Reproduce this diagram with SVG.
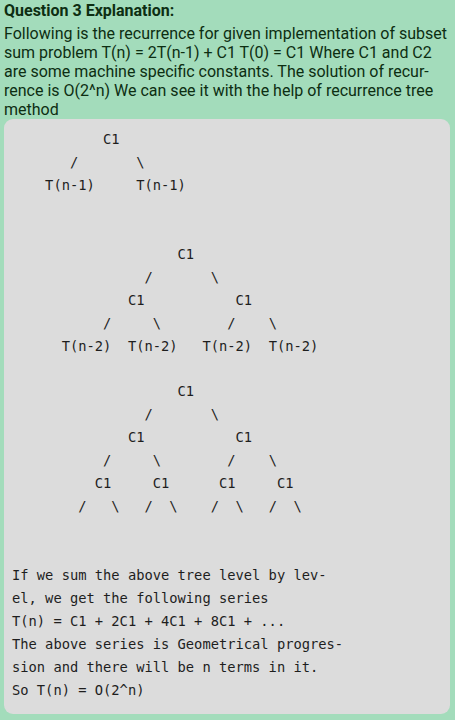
<svg xmlns="http://www.w3.org/2000/svg" width="455" height="720" viewBox="0 0 455 720">
<style>
.h{font-family:Roboto,"Liberation Sans",sans-serif;font-size:16px;font-weight:bold;fill:#0d2e12}
.p{font-family:Roboto,"Liberation Sans",sans-serif;font-size:16px;fill:#0d2e12}
.m{font-family:"DejaVu Sans Mono","Liberation Mono",monospace;font-size:13.75px;fill:#1e1e1e}
</style>
<rect x="0" y="0" width="455" height="720" fill="#a3dcbb"/>
<text class="h" x="4" y="16">Question 3 Explanation:</text>
<g id="intro">
<text class="p" x="4" y="38.5">Following is the recurrence for given implementation of subset</text>
<text class="p" x="4" y="57.5">sum problem T(n) = 2T(n-1) + C1 T(0) = C1 Where C1 and C2</text>
<text class="p" x="4" y="76.5">are some machine specific constants. The solution of recur-</text>
<text class="p" x="4" y="95.5">rence is O(2^n) We can see it with the help of recurrence tree</text>
<text class="p" x="4" y="114.5">method</text>
</g>
<rect id="panel" x="4" y="119" width="446" height="595" rx="9" fill="#dcdcdc"/>
<g id="tree1">
<g id="t1-root"><text class="m" x="103.08" y="144">C1</text></g>
<g id="t1-l"><text class="m" x="45.12" y="189.9">T(n-1)</text></g>
<g id="t1-r"><text class="m" x="136.2" y="189.9">T(n-1)</text></g>
</g>
<g id="tree2">
<g id="t2-root"><text class="m" x="177.6" y="258.75">C1</text></g>
<g id="t2-a"><text class="m" x="127.92" y="304.65">C1</text></g>
<g id="t2-b"><text class="m" x="235.56" y="304.65">C1</text></g>
<g id="t2-l1"><text class="m" x="61.68" y="350.55">T(n-2)</text></g>
<g id="t2-l2"><text class="m" x="127.92" y="350.55">T(n-2)</text></g>
<g id="t2-l3"><text class="m" x="202.44" y="350.55">T(n-2)</text></g>
<g id="t2-l4"><text class="m" x="268.68" y="350.55">T(n-2)</text></g>
</g>
<g id="tree3">
<g id="t3-root"><text class="m" x="177.6" y="396.45">C1</text></g>
<g id="t3-a"><text class="m" x="127.92" y="442.35">C1</text></g>
<g id="t3-b"><text class="m" x="235.56" y="442.35">C1</text></g>
<g id="t3-c1"><text class="m" x="94.8" y="488.25">C1</text></g>
<g id="t3-c2"><text class="m" x="152.76" y="488.25">C1</text></g>
<g id="t3-c3"><text class="m" x="219" y="488.25">C1</text></g>
<g id="t3-c4"><text class="m" x="276.96" y="488.25">C1</text></g>
</g>
<g id="connectors">
<text class="m" x="69.96" y="166.95">/</text>
<text class="m" x="136.2" y="166.95">\</text>
<text class="m" x="144.48" y="281.7">/</text>
<text class="m" x="210.72" y="281.7">\</text>
<text class="m" x="103.08" y="327.6">/</text>
<text class="m" x="152.76" y="327.6">\</text>
<text class="m" x="227.28" y="327.6">/</text>
<text class="m" x="268.68" y="327.6">\</text>
<text class="m" x="144.48" y="419.4">/</text>
<text class="m" x="210.72" y="419.4">\</text>
<text class="m" x="103.08" y="465.3">/</text>
<text class="m" x="152.76" y="465.3">\</text>
<text class="m" x="227.28" y="465.3">/</text>
<text class="m" x="268.68" y="465.3">\</text>
<text class="m" x="78.24" y="511.2">/</text>
<text class="m" x="111.36" y="511.2">\</text>
<text class="m" x="144.48" y="511.2">/</text>
<text class="m" x="169.32" y="511.2">\</text>
<text class="m" x="210.72" y="511.2">/</text>
<text class="m" x="235.56" y="511.2">\</text>
<text class="m" x="268.68" y="511.2">/</text>
<text class="m" x="293.52" y="511.2">\</text>
</g>
<g id="summary">
<text class="m" x="12" y="580.05">If we sum the above tree level by lev-</text>
<text class="m" x="12" y="603">el, we get the following series</text>
<text class="m" x="12" y="625.95">T(n) = C1 + 2C1 + 4C1 + 8C1 + ...</text>
<text class="m" x="12" y="648.9">The above series is Geometrical progres-</text>
<text class="m" x="12" y="671.85">sion and there will be n terms in it.</text>
<text class="m" x="12" y="694.8">So T(n) = O(2^n)</text>
</g>
</svg>
